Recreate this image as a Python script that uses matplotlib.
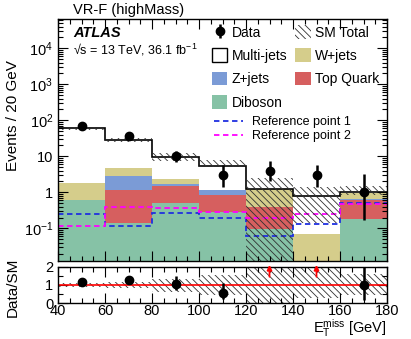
import numpy as np
import matplotlib
matplotlib.use('Agg')
import matplotlib.pyplot as plt
from matplotlib.patches import Patch
from matplotlib.lines import Line2D
from matplotlib.ticker import FixedLocator, LogLocator, MultipleLocator, FuncFormatter, NullFormatter

plt.rcParams['font.family'] = ['Liberation Sans', 'DejaVu Sans']
plt.rcParams['mathtext.fontset'] = 'custom'
plt.rcParams['mathtext.rm'] = 'Liberation Sans'
plt.rcParams['mathtext.it'] = 'Liberation Sans:italic'
plt.rcParams['mathtext.default'] = 'regular'
plt.rcParams['hatch.linewidth'] = 0.6

# E_T^miss bins [GeV]
edges = [40, 60, 80, 100, 120, 140, 160, 180]

# background stack (events per bin), bottom to top
diboson = [0.60, 0.137, 0.51, 0.29, 0.094, 0.0, 0.18]
top_quark = [0.03, 1.02, 1.0, 0.55, 0.31, 0.0, 0.43]
z_jets = [0.0, 1.73, 0.15, 0.32, 0.0, 0.0, 0.04]
w_jets = [1.15, 1.84, 0.64, 0.0, 0.83, 0.069, 0.29]
multi_jets = [58.2, 23.8, 7.4, 4.24, 0.0, 0.73, 0.06]

# SM total uncertainty band (main panel)
band_hi = [65, 32, 12.5, 7.9, 2.45, 1.4, 1.5]
band_lo = [54, 25, 7.5, 5.2, 1e-4, 0.14, 0.85]

# ratio panel uncertainty band
rband_hi = [1.12, 1.14, 1.35, 1.55, 2.1, 2.0, 1.6]
rband_lo = [0.88, 0.86, 0.6, 0.45, 0.0, 0.3, 0.45]

# data with asymmetric errors
data = [69, 37, 10, 3, 4, 3, 1]
data_up = [8.3, 6.1, 4.3, 2.9, 3.2, 2.9, 2.3]
data_dn = [8.3, 6.1, 3.1, 1.6, 1.9, 1.6, 0.83]

# signal reference points
ref1 = [0.245, 0.118, 0.26, 0.19, 0.062, 0.13, 0.51]
ref2 = [0.114, 0.40, 0.36, 0.28, 0.19, 0.25, 0.46]

c_dib = '#86c2a6'
c_top = '#d65f5f'
c_z = '#7b9bd6'
c_w = '#d5cd8b'
hatch = '\\\\\\\\\\'

edges = np.array(edges, dtype=float)
centers = 0.5 * (edges[1:] + edges[:-1])
width = edges[1] - edges[0]

comps = [np.array(diboson), np.array(top_quark), np.array(z_jets),
         np.array(w_jets), np.array(multi_jets)]
colors = [c_dib, c_top, c_z, c_w, 'white']
cum = np.cumsum(comps, axis=0)
total = cum[-1]

fig = plt.figure(figsize=(4.11, 3.39), dpi=100)
W, H = 411.0, 339.0
ax = fig.add_axes([58 / W, 1 - 260.5 / H, 329 / W, 241.5 / H])
ax2 = fig.add_axes([58 / W, 1 - 303.3 / H, 329 / W, 36.6 / H])

ymin = 0.0128
# ROOT style: each cumulative histogram filled from the bottom
for i in range(len(comps) - 1, -1, -1):
    ax.stairs(cum[i], edges, baseline=ymin * 0.5, fill=True, color=colors[i], lw=0)
ax.stairs(total, edges, baseline=None, color='black', lw=1.2)

ax.stairs(ref1, edges, baseline=None, color='#1f2fe0', lw=1.3, ls=(0, (3, 2)))
ax.stairs(ref2, edges, baseline=None, color='#ff00ff', lw=1.3, ls=(0, (3, 2)))

ax.bar(edges[:-1], np.array(band_hi) - np.array(band_lo), bottom=band_lo, width=width,
       align='edge', fill=False, hatch=hatch, lw=0, edgecolor='#303030')

eb = ax.errorbar(centers, data, yerr=[data_dn, data_up], fmt='o', color='black',
                 ms=6, elinewidth=1.8, capsize=0, zorder=5)

ax.set_yscale('log')
ax.set_xlim(40, 180)
ax.set_ylim(ymin, 6.5e4)


def log_fmt(v, pos):
    e = int(round(np.log10(v)))
    if e == 0:
        return '1'
    if e == 1:
        return '10'
    return '$10^{%d}$' % e


ax.yaxis.set_major_locator(FixedLocator([0.1, 1, 10, 100, 1e3, 1e4]))
ax.yaxis.set_major_formatter(FuncFormatter(log_fmt))
ax.yaxis.set_minor_locator(LogLocator(base=10, subs=np.arange(2, 10), numticks=20))
ax.yaxis.set_minor_formatter(NullFormatter())
ax.xaxis.set_major_locator(MultipleLocator(20))
ax.xaxis.set_minor_locator(MultipleLocator(5))
ax.tick_params(axis='x', labelbottom=False)

for a in (ax, ax2):
    a.tick_params(which='both', direction='in', top=True, right=True, labelsize=10.5)
    a.tick_params(which='major', length=7, width=0.8)
    a.tick_params(which='minor', length=3.5, width=0.8)
    for s in a.spines.values():
        s.set_linewidth(1.0)
ax2.tick_params(axis='x', pad=0.5)

ax.set_ylabel('Events / 20 GeV', fontsize=11)
ax.yaxis.set_label_coords(-0.115, 0.6)

# ratio panel
ratio = np.array(data) / total
r_up = np.array(data_up) / total
r_dn = np.array(data_dn) / total
ax2.bar(edges[:-1], np.array(rband_hi) - np.array(rband_lo), bottom=rband_lo, width=width,
        align='edge', fill=False, hatch=hatch, lw=0, edgecolor='#303030')
ax2.axhline(1.0, color='red', lw=1.2)
inr = ratio <= 2
ax2.errorbar(centers[inr], ratio[inr], yerr=[r_dn[inr], r_up[inr]], fmt='o', color='black',
             ms=6, elinewidth=1.8, capsize=0, zorder=5)
for xc in centers[~inr]:
    ax2.annotate('', xy=(xc, 2.1), xytext=(xc, 1.45),
                 arrowprops=dict(arrowstyle='-|>', color='red', lw=1.3,
                                 mutation_scale=7, shrinkA=0, shrinkB=0),
                 annotation_clip=False, zorder=6)
ax2.set_xlim(40, 180)
ax2.set_ylim(0, 2)
ax2.yaxis.set_major_locator(FixedLocator([0, 1, 2]))
ax2.yaxis.set_minor_locator(MultipleLocator(0.5))
ax2.xaxis.set_major_locator(MultipleLocator(20))
ax2.xaxis.set_minor_locator(MultipleLocator(5))
ax2.set_ylabel('Data/SM', fontsize=11)
ax2.yaxis.set_label_coords(-0.115, 0.45)
fig.text(387 / W, 1 - 333 / H, r'$E_{T}^{miss}$ [GeV]', fontsize=10.5, ha='right',
         va='baseline')

# text
fig.text(73 / W, 1 - 10 / H, 'VR-F (highMass)', fontsize=10.5, va='center', ha='left')
fig.text(73 / W, 1 - 33 / H, 'ATLAS', fontsize=10.5, weight='bold', style='italic',
         va='center', ha='left')
fig.text(73 / W, 1 - 50 / H, '\u221As = 13 TeV, 36.1 fb$^{-1}$', fontsize=9,
         va='center', ha='left')

# legends
h_sm = Patch(facecolor='white', edgecolor='#303030', hatch=hatch, lw=0)
h_mj = Patch(facecolor='white', edgecolor='black', lw=1.0)
h_w = Patch(facecolor=c_w, edgecolor='none')
h_z = Patch(facecolor=c_z, edgecolor='none')
h_t = Patch(facecolor=c_top, edgecolor='none')
h_d = Patch(facecolor=c_dib, edgecolor='none')
leg = ax.legend([eb, h_mj, h_z, h_d, h_sm, h_w, h_t],
                ['Data', 'Multi-jets', 'Z+jets', 'Diboson', 'SM Total', 'W+jets', 'Top Quark'],
                ncol=2, loc='upper left', bbox_to_anchor=(212 / W, 1 - 25 / H),
                bbox_transform=fig.transFigure, frameon=False, fontsize=10,
                handlelength=1.1, handleheight=1.15, handletextpad=0.3,
                labelspacing=0.63, columnspacing=0.6, borderpad=0, borderaxespad=0)
ax.add_artist(leg)
h_r1 = Line2D([], [], color='#1f2fe0', lw=1.3, ls=(0, (3, 2)))
h_r2 = Line2D([], [], color='#ff00ff', lw=1.3, ls=(0, (3, 2)))
ax.legend([h_r1, h_r2], ['Reference point 1', 'Reference point 2'],
          loc='upper left', bbox_to_anchor=(214 / W, 1 - 116 / H),
          bbox_transform=fig.transFigure, frameon=False, fontsize=9,
          handlelength=2.3, handletextpad=0.7, labelspacing=0.2,
          borderpad=0, borderaxespad=0)

fig.savefig('out.png', dpi=100)
